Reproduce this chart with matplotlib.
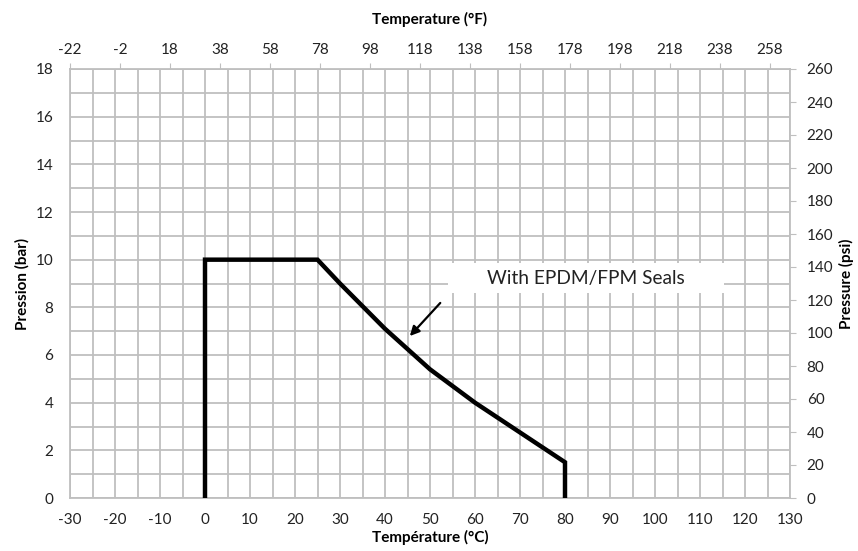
import matplotlib
matplotlib.use("Agg")
import matplotlib.pyplot as plt
import numpy as np

# Data
temp_c = [0, 0, 25, 30, 40, 50, 60, 70, 80, 80]
pressure_bar = [0, 10, 10, 9.0, 7.1, 5.4, 4.0, 2.75, 1.5, 0]
x_ticks_c = list(range(-30, 131, 10))
y_ticks_bar = list(range(0, 19, 2))
top_ticks_f = list(range(-22, 259, 20))
right_ticks_psi = list(range(0, 261, 20))
annotation = "With EPDM/FPM Seals"

plt.rcParams['font.family'] = ['Lato', 'DejaVu Sans']
plt.rcParams['axes.unicode_minus'] = False
grid_c = '#bfbfbf'
txt_c = '#222222'
fs = 11

fig = plt.figure(figsize=(8.58, 5.51), dpi=100)
ax = fig.add_axes([70/858, 1-498/551, 720/858, 429/551])
ax.set_xlim(-30, 130)
ax.set_ylim(0, 18)
ax.set_xticks(x_ticks_c)
ax.set_xticks(np.arange(-30, 131, 5), minor=True)
ax.set_yticks(y_ticks_bar)
ax.set_yticks(np.arange(0, 19, 1), minor=True)
ax.grid(True, which='both', color=grid_c, linewidth=1.3)
ax.set_axisbelow(True)
ax.tick_params(which='both', length=0, labelsize=fs, colors=txt_c)
ax.tick_params(axis='x', pad=11)
ax.tick_params(axis='y', pad=12)
for s in ax.spines.values():
    s.set_color(grid_c)
    s.set_linewidth(1.3)

ax.plot(temp_c, pressure_bar, color='black', linewidth=3.2, solid_joinstyle='miter', zorder=3)

ax.set_xlabel("Température (°C)", fontweight='bold', fontsize=fs, color='black', labelpad=2)
ax.set_ylabel("Pression (bar)", fontweight='bold', fontsize=fs, color='black', labelpad=4)

# top axis (°F)
axt = ax.twiny()
axt.set_xlim(-22, 266)
axt.set_xticks(top_ticks_f)
axt.tick_params(axis='x', length=4, color=grid_c, labelsize=fs, labelcolor=txt_c, pad=5)
axt.set_xlabel("Temperature (°F)", fontweight='bold', fontsize=fs, labelpad=13)
for s in axt.spines.values():
    s.set_visible(False)

# right axis (psi)
axr = ax.twinx()
axr.set_ylim(0, 260)
axr.set_yticks(right_ticks_psi)
axr.tick_params(axis='y', length=4, color=grid_c, labelsize=fs, labelcolor=txt_c, pad=8)
axr.set_ylabel("Pressure (psi)", fontweight='bold', fontsize=fs, labelpad=4)
for s in axr.spines.values():
    s.set_visible(False)

# annotation box
ax.text(84.6, 9.22, annotation, ha='center', va='center', fontsize=13.8, color=txt_c, zorder=5,
        bbox=dict(boxstyle='square,pad=0', facecolor='white', edgecolor='none'))
ax.add_patch(plt.Rectangle((54.0, 8.6), 61.3, 1.26, facecolor='white', edgecolor='none', zorder=4))
ax.annotate('', xy=(45.1, 6.71), xytext=(52.7, 8.27),
            arrowprops=dict(arrowstyle='-|>', color='black', lw=1.6, mutation_scale=14), zorder=6)

fig.savefig('out.png', dpi=100)
